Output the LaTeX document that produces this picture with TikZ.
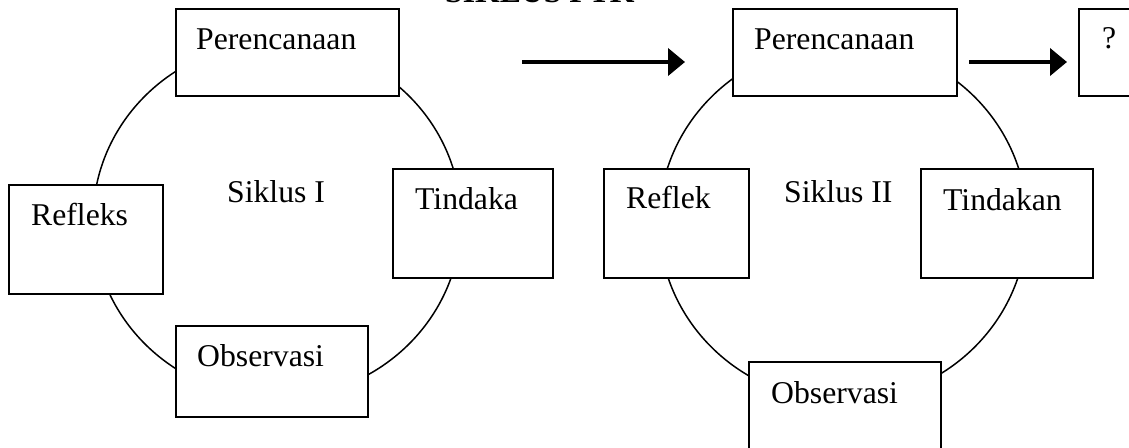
\documentclass[tikz,border=0pt]{standalone}
\usepackage{fontspec}
\setmainfont{Liberation Serif}
\usetikzlibrary{arrows.meta}
\begin{document}
\begin{tikzpicture}[x=1pt,y=-1pt,
  box/.style={draw=black,line width=2pt,fill=white,rectangle,inner sep=0pt},
  lbl/.style={anchor=base west,inner sep=0pt,font=\fontsize{31.7}{38}\selectfont},
  ring/.style={draw=black,line width=1.5pt},
  bigarrow/.style={line width=4pt,-{Triangle[length=17pt,width=27pt]}}]
\useasboundingbox (0,0) rectangle (1129,447);
% title (cut off at the top)
\node[lbl,font=\fontsize{31.7}{38}\selectfont\bfseries] (title) at (445,2.5) {SIKLUS PTK};
% cycles
\draw[ring] (277,220) ellipse [x radius=184pt, y radius=178pt];
\draw[ring] (843,222) ellipse [x radius=184pt, y radius=179pt];
% boxes cycle I
\node[box,minimum width=223pt,minimum height=87pt] (p1) at (287.5,52.5) {};
\node[box,minimum width=154pt,minimum height=109pt] (r1) at (86,239.5) {};
\node[box,minimum width=160pt,minimum height=109pt] (t1) at (473,223.5) {};
\node[box,minimum width=192pt,minimum height=91pt] (o1) at (272,371.5) {};
% boxes cycle II
\node[box,minimum width=224pt,minimum height=87pt] (p2) at (845,52.5) {};
\node[box,minimum width=61pt,minimum height=87pt] (q) at (1109.5,52.5) {};
\node[box,minimum width=145pt,minimum height=109pt] (r2) at (676.5,223.5) {};
\node[box,minimum width=172pt,minimum height=109pt] (t2) at (1007,223.5) {};
\node[box,minimum width=192pt,minimum height=108pt] (o2) at (845,416) {};
% labels
\node[lbl] (lp1) at (196,49) {Perencanaan};
\node[lbl] (lr1) at (31,225) {Refleks};
\node[lbl] (lt1) at (415,209) {Tindaka};
\node[lbl] (lo1) at (197,366) {Observasi};
\node[lbl] (ls1) at (227,202) {Siklus I};
\node[lbl] (lp2) at (754,49) {Perencanaan};
\node[lbl] (lq) at (1102,48) {?};
\node[lbl] (lr2) at (626,208) {Reflek};
\node[lbl] (lt2) at (943,210) {Tindakan};
\node[lbl] (lo2) at (771,403) {Observasi};
\node[lbl] (ls2) at (784,202) {Siklus II};
% arrows
\coordinate (a1start) at (522,62);
\draw[bigarrow,shorten >=47pt] (a1start) -- (p2.west |- a1start);
\draw[bigarrow,shorten <=11pt,shorten >=11pt] (p2.east |- a1start) -- (q.west |- a1start);
\end{tikzpicture}
\end{document}
